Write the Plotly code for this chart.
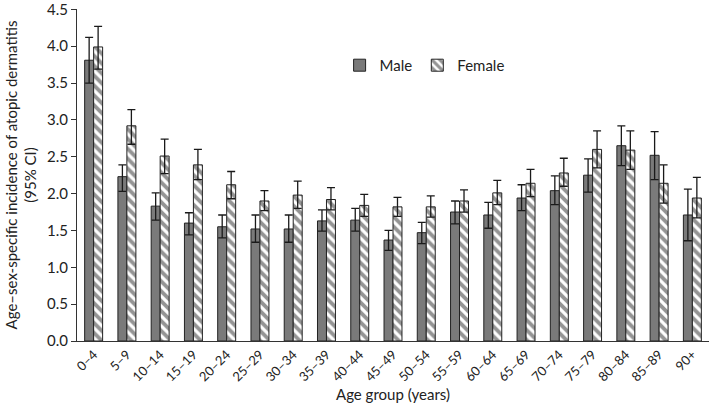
import plotly.graph_objects as go

# age groups
age_groups = ["0–4", "5–9", "10–14", "15–19", "20–24", "25–29", "30–34", "35–39",
              "40–44", "45–49", "50–54", "55–59", "60–64", "65–69", "70–74",
              "75–79", "80–84", "85–89", "90+"]

# incidence and 95% CI, male
male = [3.81, 2.23, 1.83, 1.60, 1.55, 1.52, 1.52, 1.63, 1.64, 1.37, 1.47, 1.75,
        1.71, 1.94, 2.04, 2.25, 2.65, 2.52, 1.71]
male_hi = [4.12, 2.39, 2.01, 1.74, 1.71, 1.71, 1.71, 1.78, 1.80, 1.50, 1.61, 1.90,
           1.88, 2.12, 2.24, 2.47, 2.92, 2.84, 2.06]
male_lo = [3.50, 2.03, 1.64, 1.44, 1.40, 1.34, 1.34, 1.49, 1.49, 1.23, 1.32, 1.59,
           1.53, 1.77, 1.85, 2.02, 2.38, 2.19, 1.36]

# incidence and 95% CI, female
female = [3.99, 2.92, 2.51, 2.39, 2.12, 1.90, 1.98, 1.92, 1.84, 1.82, 1.82, 1.90,
          2.01, 2.14, 2.28, 2.60, 2.59, 2.14, 1.94]
female_hi = [4.27, 3.14, 2.74, 2.60, 2.30, 2.04, 2.17, 2.08, 1.99, 1.95, 1.97, 2.05,
             2.18, 2.33, 2.48, 2.85, 2.85, 2.39, 2.22]
female_lo = [3.69, 2.67, 2.27, 2.19, 1.93, 1.77, 1.80, 1.78, 1.69, 1.69, 1.68, 1.75,
             1.85, 1.96, 2.10, 2.35, 2.33, 1.87, 1.67]

y_ticks = [0, 0.5, 1, 1.5, 2, 2.5, 3, 3.5, 4, 4.5]

FONT = "Lato, 'Open Sans', sans-serif"


def err(vals, hi, lo):
    # asymmetric error bar dict from CI bounds
    return dict(
        type="data", symmetric=False,
        array=[h - v for h, v in zip(hi, vals)],
        arrayminus=[v - l for v, l in zip(vals, lo)],
        color="#1a1a1a", thickness=1.3, width=4,
    )


fig = go.Figure()

fig.add_trace(go.Bar(
    x=age_groups, y=male, name="Male",
    marker=dict(color="#7a7a7a", line=dict(color="#222222", width=1)),
    error_y=err(male, male_hi, male_lo),
))

fig.add_trace(go.Bar(
    x=age_groups, y=female, name="Female",
    marker=dict(
        color="white",
        line=dict(color="#222222", width=1),
        pattern=dict(shape="\\", fgcolor="#2a2a2a", bgcolor="white",
                     size=7, solidity=0.55),
    ),
    error_y=err(female, female_hi, female_lo),
))

fig.update_layout(
    width=709, height=412,
    margin=dict(l=77, r=0, t=9, b=71, autoexpand=False),
    plot_bgcolor="white", paper_bgcolor="white",
    font=dict(family=FONT, size=14, color="#222222"),
    barmode="group", bargap=0.46, bargroupgap=0.0,
    showlegend=True,
    legend=dict(
        orientation="h", x=0.55, y=0.83, xanchor="center", yanchor="middle",
        font=dict(size=15), itemwidth=30, bgcolor="rgba(0,0,0,0)",
    ),
)

fig.update_xaxes(
    showline=True, linecolor="#333333", linewidth=1,
    ticks="", tickangle=-45, tickfont=dict(size=13),
    title=dict(text="Age group (years)", font=dict(size=15), standoff=6),
    showgrid=False,
)

fig.update_yaxes(
    range=[0, 4.505], tickvals=y_ticks, tickformat=".1f",
    ticklabeloverflow="allow",
    showline=True, linecolor="#333333", linewidth=1,
    ticks="outside", ticklen=5, tickcolor="#333333",
    tickfont=dict(size=15),
    title=dict(text="Age–sex-specific incidence of atopic dermatitis<br>(95% CI)",
               font=dict(size=15), standoff=6),
    showgrid=False, zeroline=False,
)

# drop the default page margin so the chart sits at the window origin
fig.write_html("out.html", config={"displayModeBar": False},
               post_script="document.body.style.margin='0';")
